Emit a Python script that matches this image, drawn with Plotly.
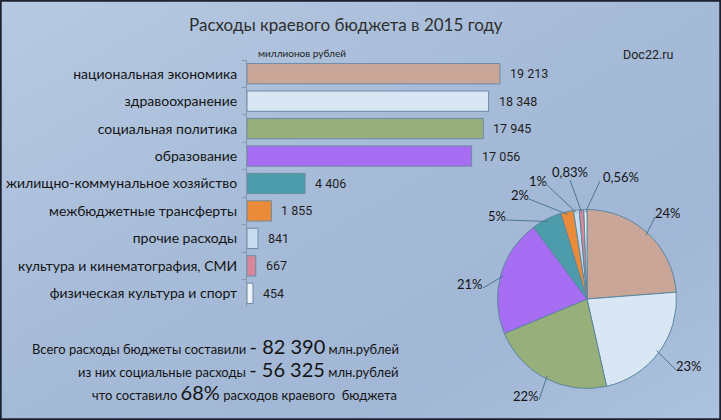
import base64
import math
import plotly.graph_objects as go

# ---------------- data ----------------
categories = [
    "национальная экономика",
    "здравоохранение",
    "социальная политика",
    "образование",
    "жилищно-коммунальное хозяйство",
    "межбюджетные трансферты",
    "прочие расходы",
    "культура и кинематография, СМИ",
    "физическая культура и спорт",
]
values = [19213, 18348, 17945, 17056, 4406, 1855, 841, 667, 454]
pie_labels = ["24%", "23%", "22%", "21%", "5%", "2%", "1%", "0,83%", "0,56%"]
total_budget = "82 390"
social_total = "56 325"
social_share = "68%"

# ---------------- style ----------------
W, H = 721, 420
colors = ["#c9a697", "#d9e6f3", "#97b07b", "#a76df2", "#4c9cac",
          "#e98b39", "#c9dbef", "#d8879a", "#eef3f9"]
FONT = "Lato, 'Open Sans', 'Noto Sans', sans-serif"
NUMFONT = "Roboto, 'Liberation Sans', sans-serif"

def px_x(x):
    return x / W

def px_y(y):
    return 1 - y / H

# background gradient as svg image
svg = f'''<svg xmlns="http://www.w3.org/2000/svg" width="{W}" height="{H}">
<defs><linearGradient id="g" x1="0" y1="0" x2="1" y2="1">
<stop offset="0" stop-color="#b7cae3"/>
<stop offset="0.45" stop-color="#a6bbd8"/>
<stop offset="0.75" stop-color="#a1b7d5"/>
<stop offset="1" stop-color="#adc2de"/>
</linearGradient></defs>
<rect width="{W}" height="{H}" fill="url(#g)"/></svg>'''
bg_src = "data:image/svg+xml;base64," + base64.b64encode(svg.encode()).decode()

fig = go.Figure()

# ---------------- bars ----------------
fig.add_trace(go.Bar(
    y=categories, x=values, orientation="h",
    marker=dict(color=colors, line=dict(color="#6d8aa5", width=1)),
    width=0.74, hoverinfo="skip", showlegend=False,
))

annotations = []
# value labels next to bars (data coordinates)
for c, v in zip(categories, values):
    annotations.append(dict(x=v, y=c, xref="x", yref="y", xanchor="left", yanchor="middle",
                            xshift=8, showarrow=False,
                            text=f"{v:,}".replace(",", " "),
                            font=dict(family=NUMFONT, size=12.5, color="#1e1e1e")))

# ---------------- pie ----------------
cx, cy, r = 587, 299, 89.5
fig.add_trace(go.Pie(
    values=values, labels=categories, sort=False, direction="clockwise",
    rotation=0, textinfo="none", hoverinfo="skip", showlegend=False,
    marker=dict(colors=colors, line=dict(color="#5a879f", width=1)),
    domain=dict(x=[px_x(cx - r), px_x(cx + r)], y=[px_y(cy + r), px_y(cy - r)]),
))

# pie labels with leader lines (label positions relative to pie centre)
label_pos = [(81, -86), (102, 67), (-61, 97), (-117, -15), (-90, -83),
             (-67, -104), (-49, -118), (-17, -127), (34, -122)]
shapes = []
tot = sum(values)
cum = 0
for v, lab, (lx, ly) in zip(values, pie_labels, label_pos):
    mid = (cum + v / 2) / tot * 2 * math.pi
    cum += v
    sx = cx + r * 0.97 * math.sin(mid)
    sy = cy - r * 0.97 * math.cos(mid)
    tx, ty = cx + lx, cy + ly
    hw = len(lab) * 4.0
    if abs(lx) < 25:
        ex, ey = tx, ty + 8
    elif lx > 0:
        ex, ey = tx - hw - 1, ty + 4
    else:
        ex, ey = tx + hw + 1, ty + 4
    shapes.append(dict(type="line", xref="paper", yref="paper",
                       x0=px_x(sx), y0=px_y(sy), x1=px_x(ex), y1=px_y(ey),
                       line=dict(color="#4d7690", width=1)))
    annotations.append(dict(x=px_x(tx), y=px_y(ty), xref="paper", yref="paper",
                            text=lab, showarrow=False, xanchor="center", yanchor="middle",
                            font=dict(family=FONT, size=13, color="#141414")))

# ---------------- texts ----------------
texts = [
    dict(x=px_x(346), y=px_y(24), text="Расходы краевого бюджета в 2015 году",
         font=dict(family=FONT, size=17, color="#2e2e2e")),
    dict(x=px_x(302), y=px_y(53), text="миллионов рублей",
         font=dict(family=FONT, size=10, color="#222222")),
    dict(x=px_x(648), y=px_y(55), text="Doc22.ru",
         font=dict(family=NUMFONT, size=12.5, color="#222222")),
    dict(x=px_x(401), y=px_y(346), xanchor="right",
         text=f"Всего расходы бюджеты составили <span style='font-size:20px'>- {total_budget}</span> млн.рублей",
         font=dict(family=FONT, size=13, color="#141414")),
    dict(x=px_x(401), y=px_y(369), xanchor="right",
         text=f"из них социальные расходы <span style='font-size:20px'>- {social_total}</span> млн.рублей",
         font=dict(family=FONT, size=13, color="#141414")),
    dict(x=px_x(399), y=px_y(392), xanchor="right",
         text=f"что составило <span style='font-size:20px'>{social_share}</span> расходов краевого  бюджета",
         font=dict(family=FONT, size=13, color="#141414")),
]
for a in texts:
    a.update(xref="paper", yref="paper", showarrow=False)
    a.setdefault("xanchor", "center")
    a.setdefault("yanchor", "middle")
annotations += texts

# frame
shapes.append(dict(type="rect", xref="paper", yref="paper", x0=0.001, y0=0.002, x1=0.999, y1=0.998,
                   line=dict(color="#1c2230", width=2), layer="above"))

fig.update_layout(
    width=W, height=H,
    margin=dict(l=0, r=0, t=0, b=0),
    paper_bgcolor="#a8bdd9", plot_bgcolor="rgba(0,0,0,0)",
    images=[dict(source=bg_src, xref="paper", yref="paper", x=0, y=1,
                 sizex=1, sizey=1, sizing="stretch", layer="below")],
    xaxis=dict(domain=[px_x(247), px_x(247 + 25000 * 253 / 19213)], range=[0, 25000],
               visible=False, fixedrange=True),
    yaxis=dict(domain=[px_y(307), px_y(60)], autorange="reversed",
               showline=True, linecolor="#8797ab", linewidth=1,
               ticks="outside", tickson="boundaries", ticklen=4, tickcolor="#8797ab",
               ticklabelstandoff=6,
               tickfont=dict(family=FONT, size=14, color="#141414"),
               showgrid=False, zeroline=False, fixedrange=True),
    bargap=0.26,
    shapes=shapes, annotations=annotations,
    font=dict(family=FONT),
)

fig.write_html("out.html", config={"displayModeBar": False},
               post_script="document.body.style.margin='0';document.body.style.overflow='hidden';")
